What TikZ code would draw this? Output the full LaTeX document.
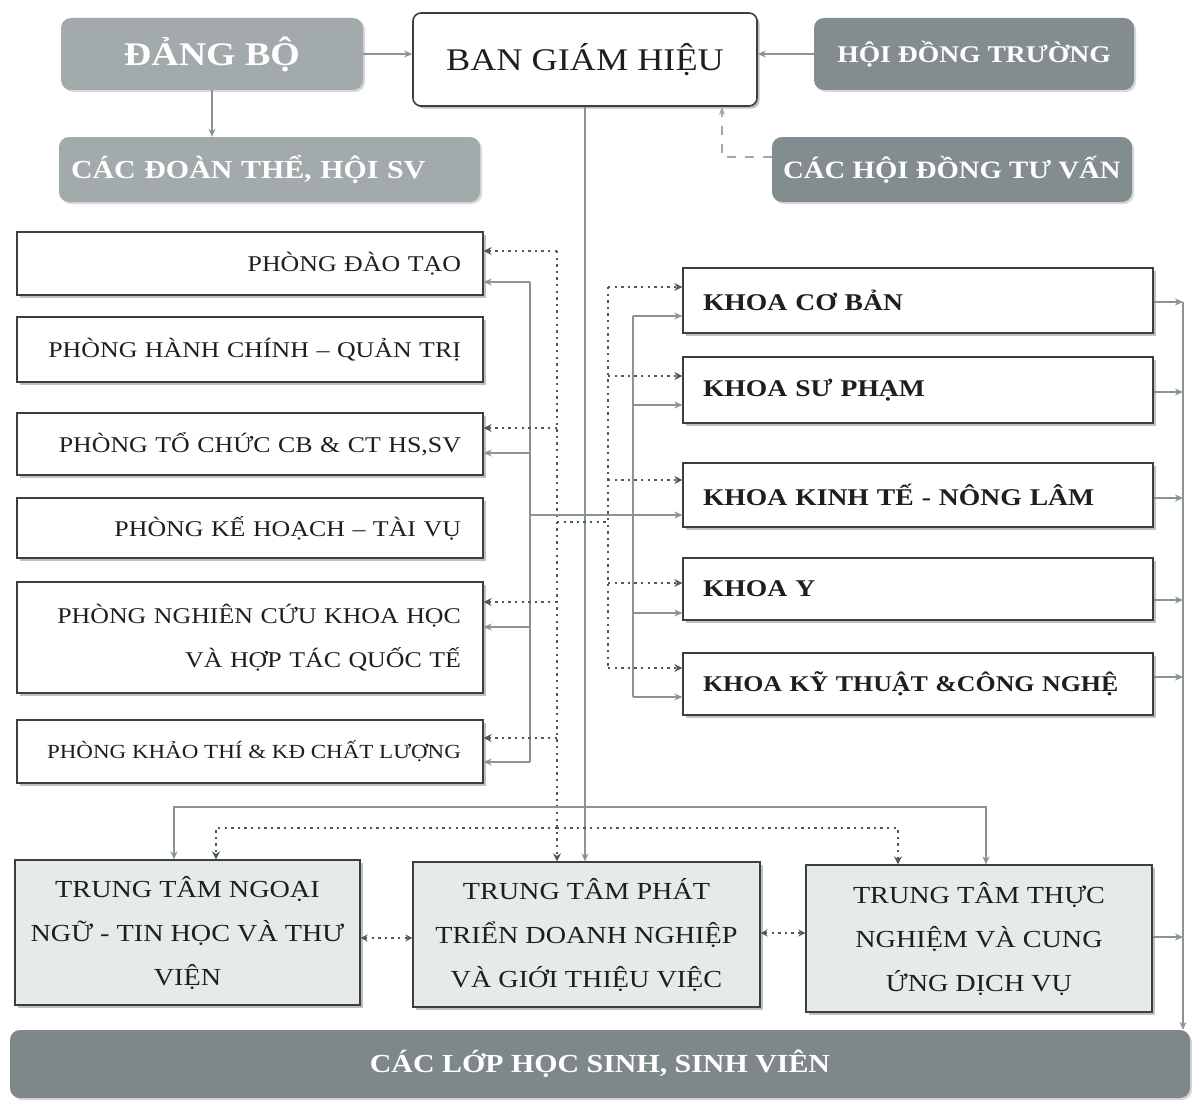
\documentclass[tikz,border=0pt]{standalone}
\usepackage{fontspec}
\setmainfont{Liberation Serif}[FakeStretch=1.15]
\usetikzlibrary{arrows.meta,shadows}
\definecolor{bordercol}{HTML}{3A4042}
\definecolor{linecol}{HTML}{8A9497}
\definecolor{dotcol}{HTML}{4E595C}
\definecolor{grayA}{HTML}{A2AAAC}
\definecolor{grayB}{HTML}{838C8E}
\definecolor{grayC}{HTML}{7E888A}
\definecolor{cfill}{HTML}{E7EAEB}
\definecolor{txt}{HTML}{1C1F20}
\begin{document}
\begin{tikzpicture}[x=1pt,y=-1pt,
  shad/.style={drop shadow={shadow xshift=2.5pt,shadow yshift=-2.5pt,fill=black!35,opacity=0.7}},
  wbox/.style={draw=bordercol,line width=1.3pt,fill=white,inner sep=0pt,text=txt,shad},
  lbox/.style={wbox,minimum width=466pt,inner xsep=22pt,text width=422pt,align=right,
    font=\fontsize{22.5}{44}\selectfont},
  rbox/.style={wbox,minimum width=470pt,inner xsep=20pt,text width=430pt,align=left,
    font=\bfseries\fontsize{24}{30}\selectfont},
  cbox/.style={wbox,fill=cfill,inner xsep=8pt,align=center,
    font=\fontsize{24.5}{44}\selectfont},
  gbox/.style={draw=none,rounded corners=10pt,text=white,inner sep=0pt,
    drop shadow={shadow xshift=2pt,shadow yshift=-2pt,fill=black!25,opacity=0.6}},
  sline/.style={draw=linecol,line width=1.6pt},
  sarr/.style={sline,-{Stealth[length=8pt,width=7pt]}},
  dline/.style={draw=dotcol,line width=2.8pt,dash pattern=on 2.4pt off 4.2pt},
  darr/.style={dline,-{Stealth[length=8pt,width=8pt]}},
  ddarr/.style={dline,{Stealth[length=7pt,width=7pt]}-{Stealth[length=7pt,width=7pt]}},
  tdash/.style={draw=linecol!80,line width=1.3pt,dash pattern=on 9pt off 9pt,-{Stealth[length=8pt,width=6pt]}}
]
\useasboundingbox[fill=white] (0,0) rectangle (1192,1108);

% ---- top row
\node[gbox,fill=grayA,minimum width=302pt,minimum height=72pt,font=\bfseries\fontsize{33}{36}\selectfont]
  (db) at (212,54) {ĐẢNG BỘ};
\node[wbox,rounded corners=8pt,line width=1.6pt,minimum width=344pt,minimum height=93pt,font=\fontsize{31.5}{36}\selectfont]
  (bgh) at (585,59.5) {BAN GIÁM HIỆU};
\node[gbox,fill=grayB,minimum width=320pt,minimum height=72pt,font=\bfseries\fontsize{24}{28}\selectfont]
  (hdt) at (974,54) {HỘI ĐỒNG TRƯỜNG};
\node[gbox,fill=grayA,minimum width=421pt,minimum height=65pt,inner xsep=12pt,text width=397pt,align=left,
  font=\bfseries\fontsize{26}{30}\selectfont]
  (cdt) at (269.5,169.5) {CÁC ĐOÀN THỂ, HỘI SV};
\node[gbox,fill=grayB,minimum width=360pt,minimum height=65pt,font=\bfseries\fontsize{25}{30}\selectfont]
  (chd) at (952,169.5) {CÁC HỘI ĐỒNG TƯ VẤN};

% ---- left column
\node[lbox,minimum height=63pt]  (pdt) at (250,263.5) {PHÒNG ĐÀO TẠO};
\node[lbox,minimum height=65pt]  (phc) at (250,349.5) {PHÒNG HÀNH CHÍNH – QUẢN TRỊ};
\node[lbox,minimum height=62pt]  (ptc) at (250,444)   {PHÒNG TỔ CHỨC CB \& CT HS,SV};
\node[lbox,minimum height=60pt]  (pkh) at (250,528)   {PHÒNG KẾ HOẠCH – TÀI VỤ};
\node[lbox,minimum height=111pt] (pnc) at (250,637.5) {PHÒNG NGHIÊN CỨU KHOA HỌC\\VÀ HỢP TÁC QUỐC TẾ};
\node[wbox,minimum width=466pt,minimum height=63pt,inner xsep=22pt,font=\fontsize{20}{30}\selectfont]
  (pkt) at (250,751.5) {\makebox[422pt][r]{PHÒNG KHẢO THÍ \& KĐ CHẤT LƯỢNG}};

% ---- right column
\node[rbox,minimum height=65pt] (kcb) at (918,300.5) {KHOA CƠ BẢN};
\node[rbox,minimum height=66pt] (ksp) at (918,390)   {KHOA SƯ PHẠM};
\node[rbox,minimum height=64pt] (kkt) at (918,495)   {KHOA KINH TẾ - NÔNG LÂM};
\node[rbox,minimum height=62pt] (ky)  at (918,589)   {KHOA Y};
\node[rbox,minimum height=62pt,font=\bfseries\fontsize{22.5}{30}\selectfont] (kkc) at (918,684) {KHOA KỸ THUẬT \&CÔNG NGHỆ};

% ---- centres
\node[cbox,minimum width=345pt,minimum height=145pt] (ttnn) at (187.5,932.5)
  {TRUNG TÂM NGOẠI\\NGỮ - TIN HỌC VÀ THƯ\\VIỆN};
\node[cbox,minimum width=347pt,minimum height=145pt] (ttpt) at (586.5,934.5)
  {TRUNG TÂM PHÁT\\TRIỂN DOANH NGHIỆP\\VÀ GIỚI THIỆU VIỆC};
\node[cbox,minimum width=346pt,minimum height=147pt] (tttn) at (979,938.5)
  {TRUNG TÂM THỰC\\NGHIỆM VÀ CUNG\\ỨNG DỊCH VỤ};

% ---- bottom bar
\node[gbox,fill=grayC,minimum width=1180pt,minimum height=68pt,font=\bfseries\fontsize{26}{30}\selectfont]
  (clh) at (600,1064) {CÁC LỚP HỌC SINH, SINH VIÊN};

% ---- trunk x positions
\coordinate (LS) at (530,0);
\coordinate (LD) at (557,0);
\coordinate (RD) at (608,0);
\coordinate (RS) at (633,0);
\coordinate (RV) at (1183,0);
\coordinate (CV) at (722,0);

% ---- top connectors
\draw[sarr] (db.east) -- (db.east -| bgh.west);
\draw[sarr] (hdt.west) -- (hdt.west -| bgh.east);
\draw[sarr] (db.south) -- (db.south |- cdt.north);
\draw[tdash] (chd.west |- 0,157) -| (CV |- bgh.south);

% ---- main line
\draw[sarr] (bgh.south) -- (bgh.south |- ttpt.north);

% ---- left trunks
\draw[sline] (LS |- 0,282) -- (LS |- 0,762);
\draw[darr] (LD |- 0,251) -- (LD |- ttpt.north);
\foreach \b/\d/\s in {pdt/251/282, ptc/428/453, pnc/602/627, pkt/738/762}{
  \draw[darr] (LD |- 0,\d) -- (\b.east |- 0,\d);
  \draw[sarr] (LS |- 0,\s) -- (\b.east |- 0,\s);
}
\draw[sarr] (LS |- 0,515) -- (kkt.west |- 0,515);
\draw[dline] (LD |- 0,522) -- (RD |- 0,522);

% ---- right trunks
\draw[dline] (RD |- 0,287) -- (RD |- 0,668);
\draw[sline] (RS |- 0,316) -- (RS |- 0,697);
\foreach \b/\d in {kcb/287, ksp/376, kkt/480, ky/583, kkc/668}{
  \draw[darr] (RD |- 0,\d) -- (\b.west |- 0,\d);
}
\foreach \b/\s in {kcb/316, ksp/405, ky/613, kkc/697}{
  \draw[sarr] (RS |- 0,\s) -- (\b.west |- 0,\s);
}

% ---- right outputs
\foreach \b/\y in {kcb/302, ksp/392, kkt/498, ky/600, kkc/677}{
  \draw[sarr] (\b.east |- 0,\y) -- (RV |- 0,\y);
}
\draw[sarr] (tttn.east |- 0,937) -- (RV |- 0,937);
\draw[sarr] (RV |- 0,302) -- (RV |- clh.north);

% ---- bottom distribution
\draw[sarr] (bgh.south |- 0,807) -| (ttnn.north -| 174,0);
\draw[sarr] (bgh.south |- 0,807) -| (tttn.north -| 986,0);
\draw[darr] (LD |- 0,828) -| (ttnn.north -| 216,0);
\draw[darr] (LD |- 0,828) -| (tttn.north -| 898,0);
\draw[ddarr] (ttnn.east |- 0,938) -- (ttpt.west |- 0,938);
\draw[ddarr] (ttpt.east |- 0,933) -- (tttn.west |- 0,933);
\end{tikzpicture}
\end{document}
